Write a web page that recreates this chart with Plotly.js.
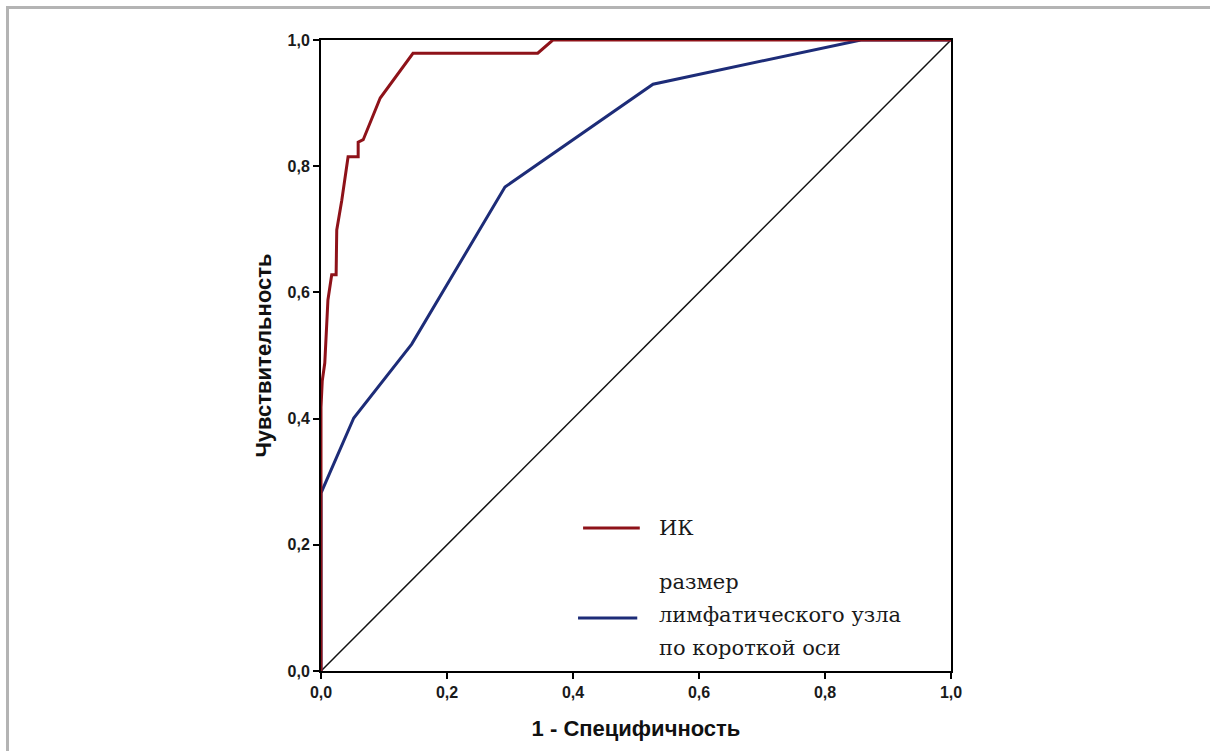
<!DOCTYPE html>
<html>
<head>
<meta charset="utf-8">
<script src="https://cdn.plot.ly/plotly-3.0.1.min.js"></script>
<style>
  html, body { margin: 0; padding: 0; background: #fff; }
  #chart { width: 1210px; height: 751px; position: absolute; left: 0; top: 0; }
  #frame { position: absolute; left: 6px; top: 6px; width: 1204px; height: 745px;
           border-top: 3px solid #b4b4b4; border-left: 3px solid #b4b4b4; pointer-events: none; box-sizing: border-box; }
</style>
</head>
<body>
<div id="chart"></div>
<div id="frame"></div>
<script>
// ROC curve data (1 - specificity, sensitivity)
const ikFpr  = [0, 0, 0.002, 0.006, 0.011, 0.017, 0.024, 0.025, 0.033, 0.043, 0.059, 0.059, 0.067, 0.094, 0.146, 0.344, 0.368, 1.0];
const ikTpr  = [0, 0.418, 0.460, 0.488, 0.588, 0.628, 0.628, 0.699, 0.746, 0.815, 0.815, 0.838, 0.842, 0.908, 0.979, 0.979, 1.0, 1.0];
const lnFpr  = [0, 0, 0.052, 0.144, 0.292, 0.527, 0.857, 1.0];
const lnTpr  = [0, 0.282, 0.401, 0.518, 0.767, 0.930, 1.0, 1.0];
const refX   = [0, 1];
const refY   = [0, 1];
const tickVals   = [0, 0.2, 0.4, 0.6, 0.8, 1.0];
const seriesNames = ['ИК', 'размер', 'лимфатического узла', 'по короткой оси'];
const xTitle = '1 - Специфичность';
const yTitle = 'Чувствительность';

const RED = '#8e1219';
const BLUE = '#1d2c78';

const traces = [
  { x: refX, y: refY, mode: 'lines', line: { color: '#111', width: 1.5 }, cliponaxis: false, hoverinfo: 'skip' },
  { x: lnFpr, y: lnTpr, mode: 'lines', line: { color: BLUE, width: 3 }, cliponaxis: false },
  { x: ikFpr, y: ikTpr, mode: 'lines', line: { color: RED, width: 3 }, cliponaxis: false }
];

const tickFont = { family: 'Liberation Sans, Arial, sans-serif', size: 16, color: '#1a1a1a', weight: 'bold' };
const titleFont = { family: 'Liberation Sans, Arial, sans-serif', size: 22, color: '#111', weight: 'bold' };
const legFont = { family: 'DejaVu Serif, serif', size: 21, color: '#1a1a1a' };

const layout = {
  width: 1210, height: 751,
  margin: { l: 321, r: 259, t: 40, b: 80 },
  paper_bgcolor: '#fff', plot_bgcolor: '#fff',
  separators: ',.',
  showlegend: false,
  xaxis: {
    range: [0, 1], tickvals: tickVals, tickformat: '.1f',
    showgrid: false, zeroline: false,
    showline: true, linecolor: '#000', linewidth: 2, mirror: true,
    ticks: 'outside', ticklen: 6, tickwidth: 2, tickcolor: '#000',
    tickfont: tickFont,
    title: { text: xTitle, font: titleFont, standoff: 20 }
  },
  yaxis: {
    range: [0, 1], tickvals: tickVals, tickformat: '.1f',
    showgrid: false, zeroline: false,
    showline: true, linecolor: '#000', linewidth: 2, mirror: true,
    ticks: 'outside', ticklen: 6, tickwidth: 2, tickcolor: '#000',
    tickfont: tickFont,
    title: { text: yTitle, font: titleFont, standoff: 10 }
  },
  shapes: [
    { type: 'line', xref: 'paper', yref: 'paper', x0: 0.416, x1: 0.506, y0: 0.2266, y1: 0.2266, line: { color: RED, width: 3 } },
    { type: 'line', xref: 'paper', yref: 'paper', x0: 0.408, x1: 0.502, y0: 0.084, y1: 0.084, line: { color: BLUE, width: 3 } }
  ],
  annotations: [
    { xref: 'paper', yref: 'paper', x: 0.533, y: 0.2266, xanchor: 'left', yanchor: 'middle', showarrow: false, text: seriesNames[0], font: legFont },
    { xref: 'paper', yref: 'paper', x: 0.533, y: 0.141, xanchor: 'left', yanchor: 'middle', showarrow: false, text: seriesNames[1], font: legFont },
    { xref: 'paper', yref: 'paper', x: 0.533, y: 0.0887, xanchor: 'left', yanchor: 'middle', showarrow: false, text: seriesNames[2], font: legFont },
    { xref: 'paper', yref: 'paper', x: 0.533, y: 0.0364, xanchor: 'left', yanchor: 'middle', showarrow: false, text: seriesNames[3], font: legFont }
  ]
};

Plotly.newPlot('chart', traces, layout, { staticPlot: true, displayModeBar: false });
</script>
</body>
</html>
